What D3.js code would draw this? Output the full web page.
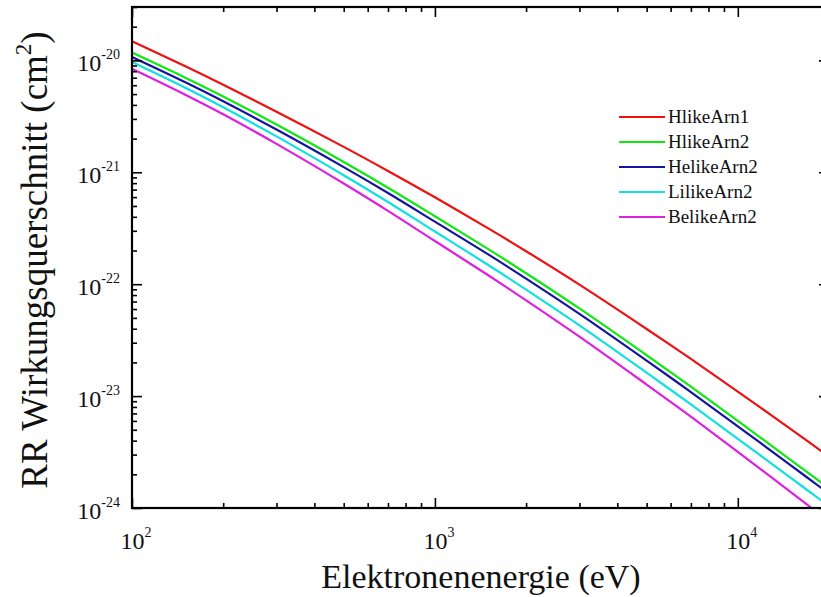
<!DOCTYPE html>
<html>
<head>
<meta charset="utf-8">
<script src="https://cdn.jsdelivr.net/npm/d3@7/dist/d3.min.js"></script>
<style>
  html, body { margin: 0; padding: 0; background: #fff; }
  svg { display: block; font-family: "Liberation Serif", "DejaVu Serif", serif; }
</style>
</head>
<body>
<svg id="chart" width="821" height="597"></svg>
<script>
// ---- data ----
const energies = [100, 150, 200, 300, 500, 700, 1000, 1500, 2000, 3000, 5000, 7000, 10000, 15000, 20000];
const seriesNames = ["HlikeArn1", "HlikeArn2", "HelikeArn2", "LilikeArn2", "BelikeArn2"];
const hlikeArn1  = [1.479e-20, 8.87e-21, 6.07e-21, 3.48e-21, 1.687e-21, 1.028e-21, 5.98e-22, 3.155e-22, 1.972e-22, 9.91e-23, 3.98e-23, 2.148e-23, 1.096e-23, 5.04e-24, 2.877e-24];
const hlikeArn2  = [1.175e-20, 7.01e-21, 4.76e-21, 2.67e-21, 1.236e-21, 7.28e-22, 4.05e-22, 2.06e-22, 1.253e-22, 6.07e-23, 2.317e-23, 1.213e-23, 6.00e-24, 2.67e-24, 1.50e-24];
const helikeArn2 = [1.072e-20, 6.37e-21, 4.31e-21, 2.41e-21, 1.112e-21, 6.53e-22, 3.62e-22, 1.845e-22, 1.122e-22, 5.43e-23, 2.075e-23, 1.086e-23, 5.37e-24, 2.39e-24, 1.343e-24];
const lilikeArn2 = [9.66e-21, 5.69e-21, 3.81e-21, 2.094e-21, 9.42e-22, 5.43e-22, 2.96e-22, 1.486e-22, 8.95e-23, 4.29e-23, 1.618e-23, 8.43e-24, 4.15e-24, 1.849e-24, 1.038e-24];
const belikeArn2 = [8.43e-21, 4.94e-21, 3.30e-21, 1.795e-21, 7.94e-22, 4.52e-22, 2.43e-22, 1.202e-22, 7.18e-23, 3.40e-23, 1.268e-23, 6.55e-24, 3.18e-24, 1.377e-24, 7.60e-25];
const seriesValues = [hlikeArn1, hlikeArn2, helikeArn2, lilikeArn2, belikeArn2];
const xMajorTicks = [100, 1000, 10000];
const xMajorExp = ["2", "3", "4"];
const yMajorTicks = [1e-20, 1e-21, 1e-22, 1e-23, 1e-24];
const yMajorExp = ["-20", "-21", "-22", "-23", "-24"];
const xTitle = "Elektronenenergie (eV)";
const yTitle = "RR Wirkungsquerschnitt (cm";

// ---- style / layout ----
const colors = ["#f01010", "#10e810", "#1414a0", "#10e0e0", "#e020e0"];
const M = { left: 132, right: 829, top: 7, bottom: 508 };

const svg = d3.select("#chart");
const x = d3.scaleLog().domain([100, 20000]).range([M.left, M.right]);
const y = d3.scaleLog().domain([1e-24, 3e-20]).range([M.bottom, M.top]);

// minor tick values
const xMinor = [];
[100, 1000, 10000].forEach(d => { for (let k = 2; k <= 9; k++) if (d * k < 20000) xMinor.push(d * k); });
const yMinor = [];
[1e-24, 1e-23, 1e-22, 1e-21, 1e-20].forEach(d => { for (let k = 2; k <= 9; k++) if (d * k <= 3e-20 * 1.0001) yMinor.push(d * k); });

svg.append("defs").append("clipPath").attr("id", "clip")
  .append("rect").attr("x", M.left).attr("y", M.top)
  .attr("width", M.right - M.left).attr("height", M.bottom - M.top);

// curves
const line = d3.line()
  .x((d, i) => x(energies[i]))
  .y(d => y(d))
  .curve(d3.curveCatmullRom.alpha(0.5));

const g = svg.append("g").attr("clip-path", "url(#clip)");
seriesValues.forEach((vals, i) => {
  g.append("path").datum(vals)
    .attr("d", line)
    .attr("fill", "none")
    .attr("stroke", colors[i])
    .attr("stroke-width", 2.2);
});

// axes (ticks inward, no labels)
function addAxis(axisGen, transform) {
  const a = svg.append("g").attr("transform", transform).call(axisGen);
  a.select(".domain").remove();
  a.selectAll("line").attr("stroke", "#000").attr("stroke-width", 1.6);
  a.selectAll("text").remove();
}
const majL = 10, minL = 5;
addAxis(d3.axisBottom(x).tickValues(xMajorTicks).tickSize(-majL).tickFormat(""), `translate(0,${M.bottom})`);
addAxis(d3.axisBottom(x).tickValues(xMinor).tickSize(-minL).tickFormat(""), `translate(0,${M.bottom})`);
addAxis(d3.axisTop(x).tickValues(xMajorTicks).tickSize(-majL).tickFormat(""), `translate(0,${M.top})`);
addAxis(d3.axisTop(x).tickValues(xMinor).tickSize(-minL).tickFormat(""), `translate(0,${M.top})`);
addAxis(d3.axisLeft(y).tickValues(yMajorTicks).tickSize(-majL).tickFormat(""), `translate(${M.left},0)`);
addAxis(d3.axisLeft(y).tickValues(yMinor).tickSize(-minL).tickFormat(""), `translate(${M.left},0)`);
addAxis(d3.axisRight(y).tickValues(yMajorTicks).tickSize(-majL).tickFormat(""), `translate(${M.right},0)`);
addAxis(d3.axisRight(y).tickValues(yMinor).tickSize(-minL).tickFormat(""), `translate(${M.right},0)`);

// frame
svg.append("rect")
  .attr("x", M.left).attr("y", M.top)
  .attr("width", M.right - M.left).attr("height", M.bottom - M.top)
  .attr("fill", "none").attr("stroke", "#000").attr("stroke-width", 2.2);

// y tick labels
yMajorTicks.forEach((v, i) => {
  const t = svg.append("text")
    .attr("x", 120).attr("y", y(v) + 11)
    .attr("text-anchor", "end")
    .attr("font-size", 24).attr("fill", "#111");
  t.append("tspan").text("10");
  t.append("tspan").attr("font-size", 14).attr("dy", -12).text(yMajorExp[i]);
});

// x tick labels
xMajorTicks.forEach((v, i) => {
  const t = svg.append("text")
    .attr("x", x(v) + 4).attr("y", 549)
    .attr("text-anchor", "middle")
    .attr("font-size", 24).attr("fill", "#111");
  t.append("tspan").text("10");
  t.append("tspan").attr("font-size", 14).attr("dy", -12).text(xMajorExp[i]);
});

// axis titles
svg.append("text")
  .attr("x", 481).attr("y", 588)
  .attr("text-anchor", "middle")
  .attr("font-size", 34).attr("fill", "#111")
  .text(xTitle);

const yt = svg.append("text")
  .attr("transform", "translate(47,260) rotate(-90)")
  .attr("text-anchor", "middle")
  .attr("font-size", 37).attr("fill", "#111");
yt.append("tspan").text(yTitle);
yt.append("tspan").attr("font-size", 23).attr("dy", -16).text("2");
yt.append("tspan").attr("dy", 16).text(")");

// legend
const legY0 = 117, legDy = 25;
seriesNames.forEach((name, i) => {
  const yy = legY0 + i * legDy;
  svg.append("line")
    .attr("x1", 619).attr("x2", 665).attr("y1", yy).attr("y2", yy)
    .attr("stroke", colors[i]).attr("stroke-width", 2);
  svg.append("text")
    .attr("x", 668).attr("y", yy + 6)
    .attr("font-size", 19).attr("fill", "#111")
    .text(name);
});
</script>
</body>
</html>
